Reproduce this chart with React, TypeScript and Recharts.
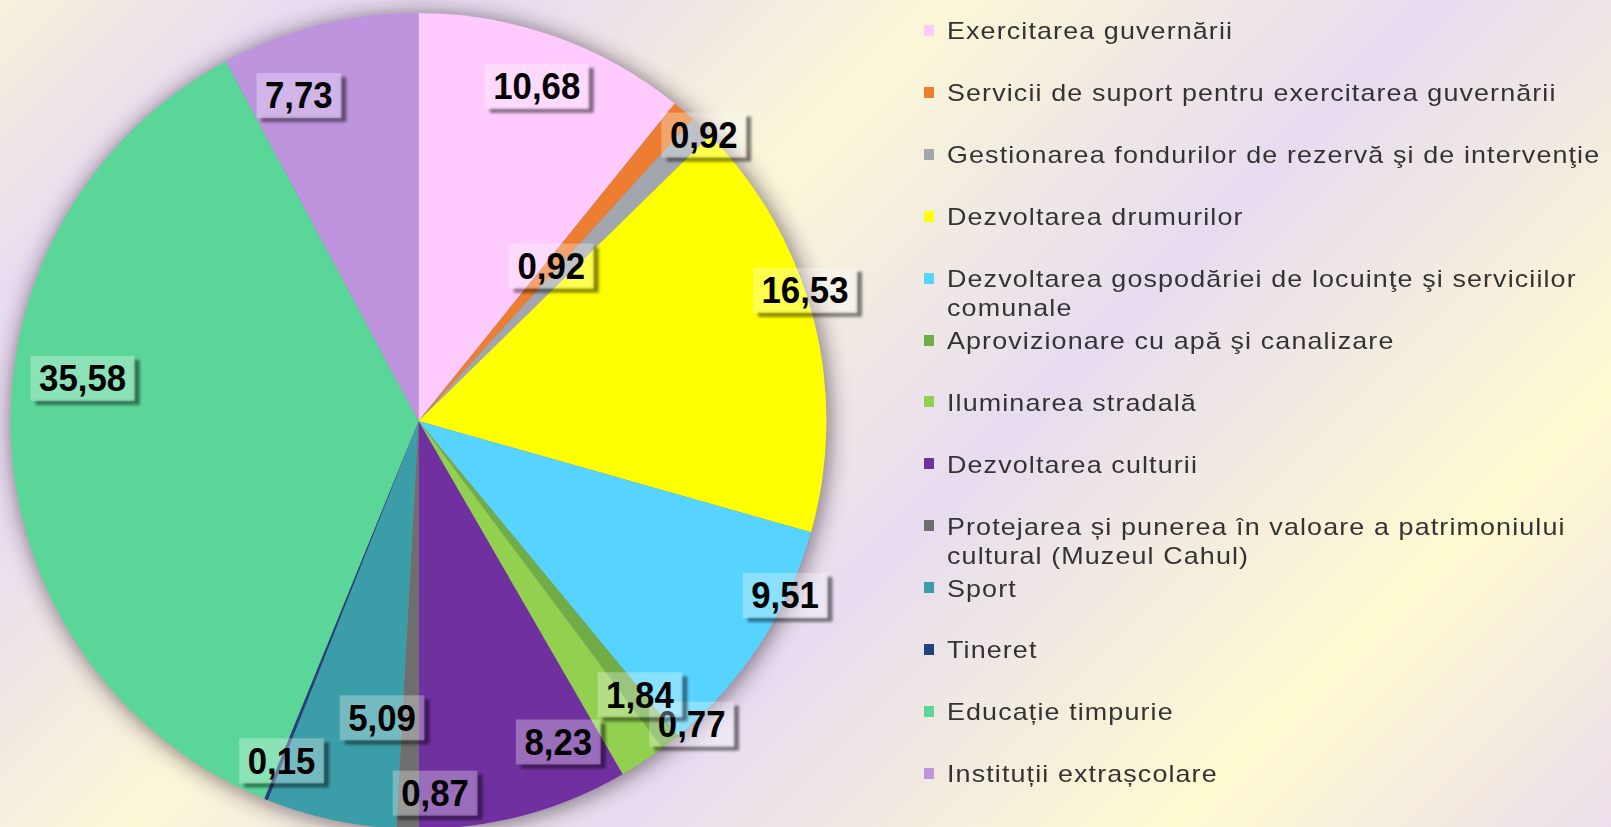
import React from 'react';
import { PieChart, Pie, Cell } from 'recharts';

const categories: string[] = [
  'Exercitarea guvernării',
  'Servicii de suport pentru exercitarea guvernării',
  'Gestionarea fondurilor de rezervă şi de intervenţie',
  'Dezvoltarea drumurilor',
  'Dezvoltarea gospodăriei de locuinţe şi serviciilor comunale',
  'Aprovizionare cu apă şi canalizare',
  'Iluminarea stradală',
  'Dezvoltarea culturii',
  'Protejarea și punerea în valoare a patrimoniului cultural (Muzeul Cahul)',
  'Sport',
  'Tineret',
  'Educație timpurie',
  'Instituții extrașcolare',
];

const values: number[] = [10.68, 0.92, 0.92, 16.53, 9.51, 0.77, 1.84, 8.23, 0.87, 5.09, 0.15, 35.58, 7.73];

const valueLabels: string[] = ['10,68', '0,92', '0,92', '16,53', '9,51', '0,77', '1,84', '8,23', '0,87', '5,09', '0,15', '35,58', '7,73'];

const colors: string[] = [
  '#FFCBFF', '#ED7D31', '#A2A6AE', '#FFFF00', '#57D3FF', '#70AD47', '#92D050',
  '#7030A0', '#6E6E6E', '#3B9DA7', '#23427A', '#5BD699', '#BE94DE',
];

const data = categories.map((name, i) => ({ name, value: values[i], label: valueLabels[i] }));
const shadowData = [{ name: 'shadow', value: 1 }];

// label placement (layout): radius as a fraction of the outer radius, and a clockwise shift from the slice mid-angle
const LABEL_RADIUS = [0.87, 0.5, 0.99, 1.0, 0.995, 1.0, 0.863, 0.858, 0.913, 0.733, 0.898, 0.83, 0.85];
const LABEL_SHIFT = [0, 0, 1, -4.4, -7.7, -3.9, -5.6, -8.5, -4.1, -5.4, 0, 10.2, -6.1];

const W = 1611;
const H = 827;
const CX = 418.5;
const CY = 421;
const R = 408;
const FONT = '"Liberation Sans", Arial, sans-serif';
const RAD = Math.PI / 180;
const LEGEND_SX = 1.12;

const BG =
  'linear-gradient(135deg, #F8F1DA 0%, #E8DCF0 12%, #E9DDEE 22%, #FBF7D6 39%, #E7DCF0 59%, #FEFAD0 82%, #ECDFEC 100%)';

function renderLabel(props: any) {
  const { cx, cy, midAngle, outerRadius, index } = props;
  const angle = midAngle - LABEL_SHIFT[index];
  const r = outerRadius * LABEL_RADIUS[index];
  const x = cx + r * Math.cos(-angle * RAD);
  const y = cy + r * Math.sin(-angle * RAD);
  const text = valueLabels[index];
  const fs = 37;
  const sx = 0.94;
  const tw = text.split('').reduce((s, c) => s + (c === ',' ? 0.278 : 0.556), 0) * fs * sx;
  const w = tw + 17;
  const h = 45;
  const left = x - w / 2;
  const top = y - h / 2;
  return (
    <g key={`lbl-${index}`}>
      <g filter="url(#boxBlur)">
        <rect x={left + w} y={top + 4} width={5} height={h} fill="rgba(0,0,0,0.5)" />
        <rect x={left + 5} y={top + h} width={w - 5} height={4} fill="rgba(0,0,0,0.5)" />
      </g>
      <rect x={left} y={top} width={w} height={h} fill="rgba(255,255,255,0.3)" />
      <text
        transform={`translate(${x},${y + 13}) scale(${sx},1)`}
        textAnchor="middle"
        fontFamily={FONT}
        fontWeight="bold"
        fontSize={fs}
        fill="#000"
      >
        {text}
      </text>
    </g>
  );
}

function LegendBlock() {
  return (
    <div style={{ position: 'absolute', left: 0, top: 0, width: W, height: H, pointerEvents: 'none' }}>
      {data.map((d, i) => {
        const baseline = 39.3 + i * 61.9;
        return (
          <React.Fragment key={d.name}>
            <div
              style={{
                position: 'absolute',
                left: 924,
                top: baseline - 14.3,
                width: 10,
                height: 11,
                background: colors[i],
              }}
            />
            <div
              style={{
                position: 'absolute',
                left: 947,
                top: baseline - 22.9,
                width: 664 / LEGEND_SX,
                fontFamily: FONT,
                fontSize: 24,
                letterSpacing: '1px',
                lineHeight: '29px',
                color: '#333333',
                whiteSpace: 'normal',
                transform: `scaleX(${LEGEND_SX})`,
                transformOrigin: 'left top',
              }}
            >
              {d.name}
            </div>
          </React.Fragment>
        );
      })}
    </div>
  );
}

export default function App() {
  return (
    <div
      style={{
        position: 'absolute',
        left: 0,
        top: 0,
        width: W,
        height: H,
        overflow: 'hidden',
        background: BG,
      }}
    >
      <svg width={0} height={0} style={{ position: 'absolute' }}>
        <defs>
          <filter id="pieShadow" x="-20%" y="-20%" width="140%" height="140%">
            <feGaussianBlur stdDeviation="10" />
          </filter>
          <filter id="boxBlur" x="-50%" y="-50%" width="200%" height="200%">
            <feGaussianBlur stdDeviation="1.5" />
          </filter>
        </defs>
      </svg>
      <PieChart width={W} height={H} margin={{ top: 0, right: 0, bottom: 0, left: 0 }}>
        <Pie
          data={shadowData}
          dataKey="value"
          cx={CX + 2}
          cy={CY + 2}
          outerRadius={R + 3}
          startAngle={90}
          endAngle={-270}
          stroke="none"
          legendType="none"
          isAnimationActive={false}
        >
          <Cell fill="#3a2c40" fillOpacity={0.55} filter="url(#pieShadow)" style={{ filter: 'url(#pieShadow)' }} />
        </Pie>
        <Pie
          data={data}
          dataKey="value"
          nameKey="name"
          cx={CX}
          cy={CY}
          outerRadius={R}
          startAngle={90}
          endAngle={-270}
          stroke="none"
          labelLine={false}
          label={renderLabel}
          isAnimationActive={false}
        >
          {data.map((d, i) => (
            <Cell key={d.name} fill={colors[i]} />
          ))}
        </Pie>
      </PieChart>
      <LegendBlock />
    </div>
  );
}
